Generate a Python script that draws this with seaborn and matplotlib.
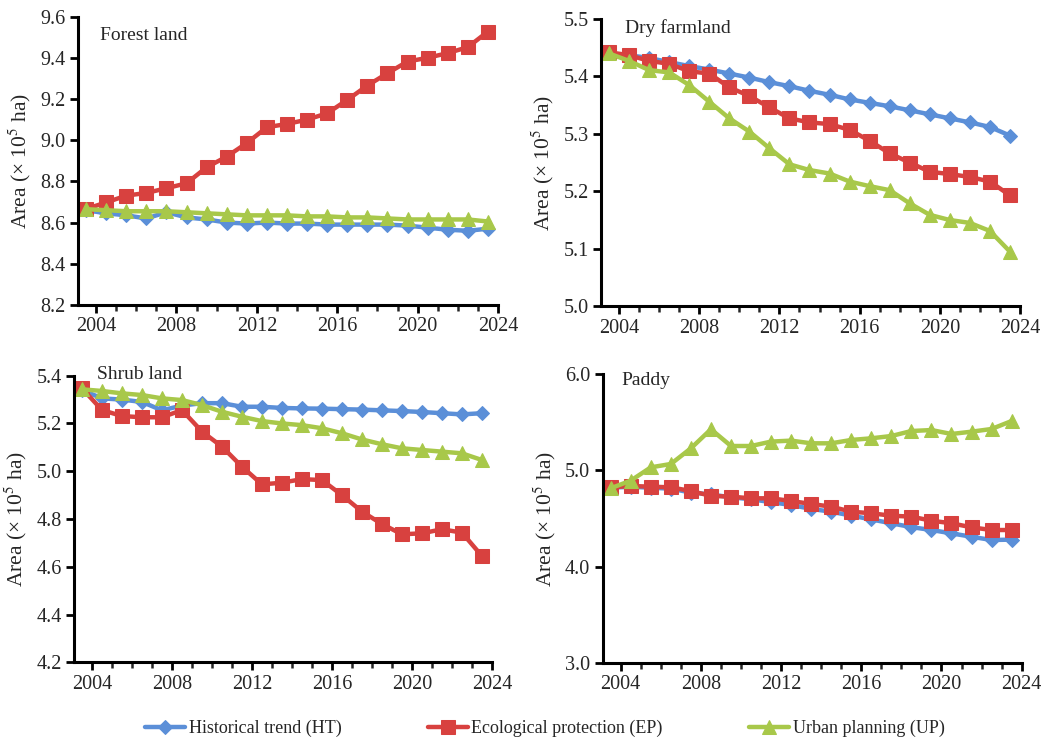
import numpy as np
import pandas as pd
import matplotlib
matplotlib.use("Agg")
import matplotlib.pyplot as plt
from matplotlib.ticker import MultipleLocator
import seaborn as sns

sns.set_style("white")
plt.rcParams['font.family'] = ['Liberation Serif', 'DejaVu Serif']
plt.rcParams['mathtext.fontset'] = 'stix'

years = [2003.5, 2004.5, 2005.5, 2006.5, 2007.5, 2008.5, 2009.5, 2010.5, 2011.5, 2012.5,
         2013.5, 2014.5, 2015.5, 2016.5, 2017.5, 2018.5, 2019.5, 2020.5, 2021.5, 2022.5, 2023.5]

scenarios = ["Historical trend (HT)", "Ecological protection (EP)", "Urban planning (UP)"]
colors = ["#5b8fd8", "#d8413f", "#a8c84a"]
markers = ["D", "s", "^"]
marker_sizes = [7, 10, 10]

forest_ht = [8.66, 8.645, 8.635, 8.62, 8.65, 8.625, 8.615, 8.60, 8.595, 8.60, 8.595,
             8.595, 8.59, 8.59, 8.59, 8.59, 8.585, 8.575, 8.565, 8.56, 8.57]
forest_ep = [8.666, 8.698, 8.731, 8.744, 8.767, 8.791, 8.869, 8.921, 8.987, 9.064, 9.08,
             9.101, 9.132, 9.197, 9.267, 9.327, 9.384, 9.402, 9.425, 9.454, 9.530]
forest_up = [8.665, 8.66, 8.655, 8.655, 8.655, 8.65, 8.645, 8.64, 8.635, 8.635, 8.635,
             8.63, 8.63, 8.625, 8.625, 8.62, 8.615, 8.615, 8.615, 8.615, 8.605]

dry_ht = [5.44, 5.437, 5.432, 5.425, 5.418, 5.412, 5.405, 5.398, 5.39, 5.383, 5.375,
          5.368, 5.36, 5.354, 5.348, 5.341, 5.334, 5.327, 5.32, 5.312, 5.297]
dry_ep = [5.442, 5.437, 5.427, 5.422, 5.409, 5.405, 5.381, 5.366, 5.346, 5.327, 5.32,
          5.317, 5.307, 5.288, 5.266, 5.25, 5.234, 5.23, 5.225, 5.217, 5.193]
dry_up = [5.44, 5.427, 5.411, 5.407, 5.385, 5.356, 5.327, 5.304, 5.275, 5.247, 5.237,
          5.231, 5.217, 5.209, 5.202, 5.179, 5.159, 5.15, 5.145, 5.131, 5.095]

shrub_ht = [5.34, 5.305, 5.30, 5.29, 5.255, 5.275, 5.285, 5.285, 5.27, 5.27, 5.265,
            5.263, 5.262, 5.26, 5.258, 5.255, 5.252, 5.248, 5.243, 5.238, 5.243]
shrub_ep = [5.347, 5.256, 5.231, 5.226, 5.226, 5.256, 5.166, 5.103, 5.019, 4.945, 4.952,
            4.967, 4.963, 4.90, 4.831, 4.779, 4.736, 4.74, 4.757, 4.743, 4.645]
shrub_up = [5.343, 5.336, 5.326, 5.319, 5.305, 5.298, 5.277, 5.249, 5.228, 5.21, 5.20,
            5.193, 5.18, 5.159, 5.133, 5.113, 5.096, 5.089, 5.082, 5.075, 5.047]

paddy_ht = [4.82, 4.83, 4.82, 4.81, 4.77, 4.75, 4.72, 4.70, 4.67, 4.64, 4.60,
            4.57, 4.53, 4.49, 4.45, 4.41, 4.38, 4.345, 4.31, 4.276, 4.28]
paddy_ep = [4.824, 4.838, 4.831, 4.824, 4.786, 4.735, 4.727, 4.71, 4.71, 4.682, 4.651,
            4.623, 4.571, 4.554, 4.529, 4.519, 4.477, 4.45, 4.408, 4.38, 4.38]
paddy_up = [4.814, 4.894, 5.032, 5.067, 5.23, 5.428, 5.254, 5.254, 5.30, 5.31, 5.282,
            5.282, 5.317, 5.334, 5.358, 5.41, 5.42, 5.379, 5.403, 5.431, 5.514]

panels = [
    ("Forest land", [forest_ht, forest_ep, forest_up], (8.2, 9.6), [8.2, 8.4, 8.6, 8.8, 9.0, 9.2, 9.4, 9.6]),
    ("Dry farmland", [dry_ht, dry_ep, dry_up], (5.0, 5.5), [5.0, 5.1, 5.2, 5.3, 5.4, 5.5]),
    ("Shrub land", [shrub_ht, shrub_ep, shrub_up], (4.2, 5.4), [4.2, 4.4, 4.6, 4.8, 5.0, 5.2, 5.4]),
    ("Paddy", [paddy_ht, paddy_ep, paddy_up], (3.0, 6.0), [3.0, 4.0, 5.0, 6.0]),
]
xticks = [2004, 2008, 2012, 2016, 2020, 2024]

positions = [
    [0.0743, 0.591, 0.400, 0.386],
    [0.5724, 0.589, 0.399, 0.3855],
    [0.0705, 0.111, 0.398, 0.3847],
    [0.5740, 0.1105, 0.399, 0.3871],
]
title_pos = [(0.052, 0.936), (0.057, 0.969), (0.055, 1.005), (0.045, 0.977)]

fig = plt.figure(figsize=(10.5, 7.45), dpi=100)
fig.patch.set_facecolor("white")

handles, labels = None, None
for (title, series, ylim, yticks), pos, tpos in zip(panels, positions, title_pos):
    ax = fig.add_axes(pos)
    rows = []
    for name, vals in zip(scenarios, series):
        for x, v in zip(years, vals):
            rows.append({"year": x, "area": v, "scenario": name})
    df = pd.DataFrame(rows)
    for name, col, mk, ms in zip(scenarios, colors, markers, marker_sizes):
        sub = df[df["scenario"] == name]
        sns.lineplot(data=sub, x="year", y="area", ax=ax, color=col, marker=mk,
                     markersize=ms, markeredgecolor=col, linewidth=3.2, label=name,
                     legend=False)
    ax.set_xlim(2003.1, 2024.0)
    ax.set_ylim(*ylim)
    ax.set_yticks(yticks)
    ax.set_yticklabels(["{:.1f}".format(t) for t in yticks])
    ax.set_xticks(xticks)
    ax.set_xticklabels([str(t) for t in xticks])
    ax.xaxis.set_minor_locator(MultipleLocator(1))
    ax.tick_params(axis="both", which="major", direction="out", length=6, width=2,
                   labelsize=14.5, color="black", pad=3, bottom=True, left=True)
    ax.tick_params(axis="x", which="minor", direction="out", length=4, width=1.8,
                   bottom=True)
    for s in ["top", "right"]:
        ax.spines[s].set_visible(False)
    for s in ["left", "bottom"]:
        ax.spines[s].set_linewidth(2.2)
        ax.spines[s].set_color("black")
    ax.set_xlabel("")
    ax.set_ylabel("Area (× 10$^{5}$ ha)", fontsize=15.5, labelpad=5)
    ax.text(tpos[0], tpos[1], title, transform=ax.transAxes, fontsize=14,
            ha="left", va="center", clip_on=False)
    ax.set_facecolor("white")
    if handles is None:
        handles, labels = ax.get_legend_handles_labels()

fig.legend(handles, labels, loc="center", bbox_to_anchor=(0.519, 0.022), ncol=3,
           frameon=False, fontsize=13, handlelength=2.2, columnspacing=4.8,
           handletextpad=0.2)

fig.savefig("out.png", dpi=100, facecolor="white")
